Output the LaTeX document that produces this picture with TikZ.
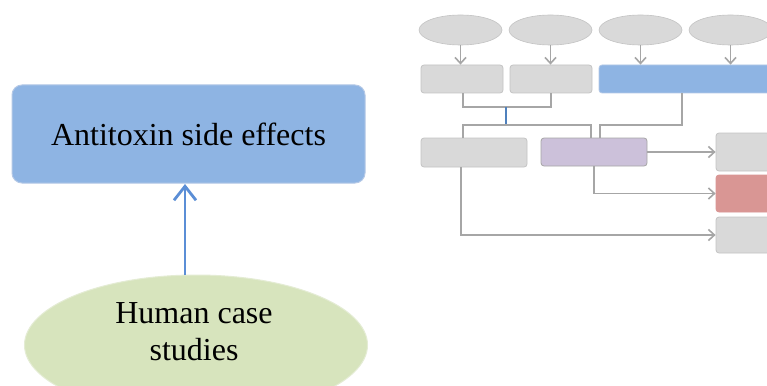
\documentclass[tikz,border=0pt]{standalone}
\usepackage{fontspec}
\setmainfont{Liberation Serif}
\usetikzlibrary{arrows.meta,shapes.geometric}

\definecolor{boxblue}{HTML}{8EB4E3}
\definecolor{boxblueline}{HTML}{B4C8E6}
\definecolor{ovalgreen}{HTML}{D7E4BD}
\definecolor{ovalgreenline}{HTML}{E4ECD4}
\definecolor{boxgray}{HTML}{D9D9D9}
\definecolor{boxgrayline}{HTML}{C4C4C4}
\definecolor{boxpurple}{HTML}{CCC1DA}
\definecolor{boxred}{HTML}{D99694}
\definecolor{linkgray}{HTML}{A6A6A6}
\definecolor{linkblue}{HTML}{4F81BD}
\definecolor{arrowblue}{HTML}{5B8ED6}

\tikzset{
  pill/.style={rectangle, rounded corners=3pt, draw=boxgrayline, line width=0.8pt,
    fill=boxgray, inner sep=0pt},
  oval/.style={ellipse, draw=boxgrayline, line width=0.6pt, fill=boxgray, inner sep=0pt,
    minimum width=83pt, minimum height=30pt},
  link/.style={draw=linkgray, line width=1.6pt},
  linkarrow/.style={link, -{Straight Barb[length=6pt,width=11pt,line width=1.6pt]}},
  bigtext/.style={font=\fontsize{32}{37}\selectfont, align=center, text=black},
}

\begin{document}
\begin{tikzpicture}[x=1pt, y=-1pt]
  \clip (0,0) rectangle (767,385);
  \fill[white] (0,0) rectangle (767,385);

  % left: source and outcome
  \node[rectangle, rounded corners=10pt, draw=boxblueline, line width=1pt, fill=boxblue,
        minimum width=353pt, minimum height=98pt, inner sep=0pt, bigtext]
        (ase) at (188.5,134) {Antitoxin side effects};
  \node[ellipse, draw=ovalgreenline, line width=1pt, fill=ovalgreen,
        minimum width=343pt, minimum height=140pt, inner sep=0pt]
        (hcs) at (196,345) {};
  \node[bigtext, anchor=base] (hcstext) at (194,360) {Human case\\studies};
  \coordinate (arrowfoot) at (185,275);
  \coordinate (arrowhead) at (185,184);
  \draw[draw=arrowblue, line width=2.8pt,
        -{Straight Barb[length=14pt,width=22pt,line width=2.8pt]}]
        (arrowfoot) -- (arrowhead);

  % right: top row of ovals
  \node[oval] (e1) at (460.5,30) {};
  \node[oval] (e2) at (550.5,30) {};
  \node[oval] (e3) at (640.5,30) {};
  \node[oval] (e4) at (730.5,30) {};

  % second row of boxes
  \node[pill, minimum width=82pt, minimum height=28pt] (b1) at (462,79) {};
  \node[pill, minimum width=82pt, minimum height=28pt] (b2) at (551,79) {};
  \node[pill, fill=boxblue, draw=boxblueline, minimum width=271pt, minimum height=28pt]
        (b3) at (734.5,79) {};

  % third row
  \node[pill, minimum width=106pt, minimum height=29pt] (c1) at (474,152.5) {};
  \node[pill, fill=boxpurple, draw=linkgray, minimum width=106pt, minimum height=28pt]
        (c2) at (594,152) {};

  % outcome column
  \node[pill, minimum width=100pt, minimum height=38pt] (d1) at (766,152) {};
  \node[pill, fill=boxred, draw=boxred, minimum width=100pt, minimum height=37pt]
        (d2) at (766,193.5) {};
  \node[pill, minimum width=100pt, minimum height=36pt] (d3) at (766,235) {};

  % junction points
  \coordinate (j1) at (506,107);
  \coordinate (j2) at (506,125);
  \coordinate (j3) at (463,125);
  \coordinate (j4) at (591,125);
  \coordinate (j5) at (682,125);
  \coordinate (j6) at (600,125);
  \coordinate (j7) at (461,236);

  % ovals into second row
  \draw[linkarrow] (e1.south) -- (e1.south |- b1.north);
  \draw[linkarrow] (e2.south) -- (e2.south |- b2.north);
  \draw[linkarrow] (e3.south) -- (e3.south |- b3.north);
  \draw[linkarrow] (e4.south) -- (e4.south |- b3.north);

  % merging brackets
  \draw[link] (b1.south -| j3) |- (j1) -| (b2.south);
  \draw[draw=linkblue, line width=1.2pt] (j1) -- (j2);
  \draw[link] (j3 |- c1.north) |- (j4) -- (j4 |- c2.north);
  \draw[link] (j5 |- b3.south) -- (j5) -- (j6) -- (j6 |- c2.north);

  % into outcomes
  \draw[linkarrow] (c2.east) -- (d1.west);
  \draw[linkarrow] (c2.south) |- (d2.west);
  \draw[linkarrow] (j7 |- c1.south) |- (d3.west);
\end{tikzpicture}
\end{document}
